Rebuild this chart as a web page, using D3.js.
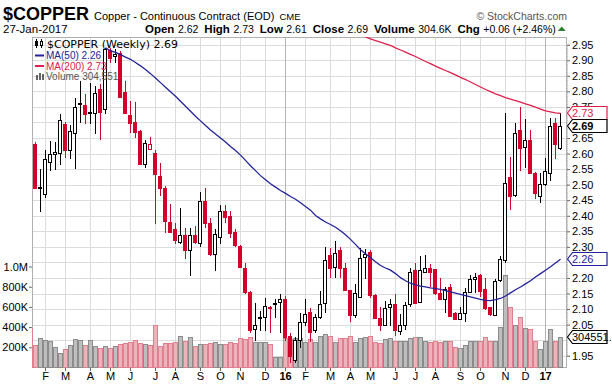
<!DOCTYPE html>
<html>
<head>
<meta charset="utf-8">
<script src="https://cdn.jsdelivr.net/npm/d3@7"></script>
<style>
  body { margin: 0; background: #fff; }
  svg { display: block; font-family: Arial, "Liberation Sans", sans-serif; }
</style>
</head>
<body>
<div id="chart"></div>
<script>
// weekly bars, Jan 16 2015 .. Jan 27 2017 (Fridays)
const weeks = d3.timeFriday.range(new Date(2015, 0, 16), new Date(2017, 0, 28));

const openP = [2.70,2.632,2.494,2.472,2.574,2.600,2.600,2.696,2.610,2.667,
  2.762,2.756,2.734,2.731,2.809,2.742,2.933,2.914,2.924,2.798,
  2.724,2.701,2.672,2.567,2.617,2.602,2.528,2.490,2.380,2.356,
  2.313,2.337,2.288,2.337,2.313,2.447,2.376,2.276,2.330,2.415,
  2.398,2.347,2.303,2.233,2.155,2.036,2.075,2.074,2.107,2.118,
  2.121,2.131,2.012,1.937,2.000,2.058,2.091,2.032,2.074,2.119,
  2.273,2.235,2.289,2.231,2.161,2.080,2.136,2.265,2.283,2.145,
  2.072,2.048,2.104,2.116,2.029,2.048,2.114,2.226,2.122,2.217,
  2.231,2.228,2.151,2.132,2.172,2.087,2.068,2.087,2.154,2.196,
  2.209,2.163,2.105,2.081,2.191,2.255,2.523,2.466,2.675,2.622,
  2.645,2.539,2.461,2.501,2.539,2.699,2.62];
const highP = [2.72,2.636,2.549,2.610,2.640,2.636,2.728,2.703,2.691,2.779,
  2.833,2.793,2.828,2.818,2.824,2.940,2.940,2.935,2.929,2.832,
  2.769,2.766,2.677,2.645,2.654,2.610,2.570,2.497,2.437,2.378,
  2.426,2.361,2.361,2.367,2.476,2.490,2.393,2.356,2.433,2.433,
  2.415,2.356,2.307,2.249,2.158,2.121,2.094,2.136,2.109,2.131,
  2.147,2.142,2.024,2.009,2.088,2.131,2.104,2.083,2.158,2.300,
  2.297,2.318,2.301,2.249,2.161,2.179,2.297,2.292,2.289,2.147,
  2.106,2.126,2.131,2.147,2.083,2.124,2.233,2.247,2.271,2.274,
  2.244,2.230,2.199,2.172,2.180,2.091,2.107,2.167,2.209,2.217,
  2.214,2.199,2.106,2.196,2.271,2.730,2.590,2.697,2.750,2.710,
  2.675,2.540,2.536,2.585,2.713,2.713,2.73];
const lowP = [2.58,2.486,2.413,2.456,2.544,2.546,2.562,2.587,2.584,2.549,
  2.699,2.696,2.694,2.662,2.642,2.728,2.892,2.891,2.780,2.727,
  2.667,2.651,2.564,2.552,2.610,2.375,2.463,2.345,2.345,2.308,
  2.308,2.260,2.206,2.308,2.301,2.361,2.270,2.221,2.308,2.378,
  2.330,2.301,2.233,2.147,2.024,1.997,2.029,2.029,2.024,2.072,
  2.024,1.997,1.926,1.926,1.976,2.046,1.994,2.024,2.067,2.088,
  2.199,2.201,2.201,2.160,2.058,2.072,2.134,2.196,2.134,2.067,
  2.029,2.046,2.044,2.014,2.017,2.034,2.107,2.119,2.121,2.216,
  2.172,2.145,2.129,2.086,2.073,2.065,2.065,2.059,2.151,2.151,
  2.140,2.097,2.077,2.077,2.188,2.249,2.418,2.461,2.545,2.553,
  2.536,2.453,2.442,2.495,2.513,2.582,2.61];
const closeP = [2.60,2.490,2.492,2.584,2.600,2.605,2.707,2.611,2.672,2.749,
  2.759,2.728,2.731,2.794,2.734,2.935,2.908,2.919,2.784,2.731,
  2.697,2.670,2.567,2.635,2.632,2.535,2.490,2.385,2.347,2.320,
  2.337,2.288,2.337,2.313,2.447,2.376,2.276,2.340,2.415,2.396,
  2.343,2.305,2.236,2.155,2.032,2.048,2.072,2.109,2.104,2.116,
  2.131,2.008,1.947,2.000,2.058,2.083,2.027,2.075,2.115,2.257,
  2.230,2.281,2.231,2.161,2.080,2.151,2.263,2.276,2.145,2.072,
  2.050,2.104,2.115,2.032,2.048,2.112,2.218,2.121,2.226,2.231,
  2.217,2.151,2.132,2.164,2.079,2.068,2.087,2.154,2.196,2.204,
  2.159,2.102,2.081,2.191,2.260,2.504,2.461,2.665,2.617,2.643,
  2.539,2.475,2.501,2.543,2.689,2.630,2.69];
// volume in thousands
const volumeK = [394,222,289,270,262,206,140,180,222,279,
  269,223,269,213,190,213,198,210,228,240,
  252,268,238,232,220,418,215,246,242,248,
  312,258,305,212,232,230,244,252,232,232,
  248,240,290,282,300,250,255,248,232,100,
  100,290,282,290,288,252,280,250,310,330,
  310,252,290,292,310,255,290,300,310,252,
  245,280,290,262,262,262,290,300,300,262,
  250,265,255,262,262,200,190,225,260,265,
  262,300,262,265,404,913,602,421,497,388,
  378,262,180,262,378,266,304.551];
// moving averages (null = above the visible range)
const ma50 = [null,null,null,null,null,null,null,null,null,null,
  null,null,null,null,null,2.940,2.930,2.925,2.918,2.910,
  2.903,2.893,2.882,2.870,2.857,2.843,2.828,2.813,2.799,2.784,
  2.768,2.752,2.736,2.720,2.705,2.690,2.676,2.663,2.650,2.637,
  2.623,2.610,2.595,2.578,2.561,2.545,2.529,2.516,2.503,2.492,
  2.481,2.472,2.462,2.453,2.442,2.430,2.418,2.401,2.390,2.380,
  2.372,2.363,2.352,2.339,2.324,2.308,2.291,2.278,2.265,2.252,
  2.240,2.232,2.225,2.214,2.201,2.191,2.183,2.178,2.174,2.171,
  2.168,2.166,2.163,2.159,2.155,2.151,2.147,2.143,2.139,2.135,
  2.131,2.128,2.127,2.130,2.134,2.142,2.152,2.162,2.171,2.181,
  2.191,2.203,2.214,2.225,2.236,2.248,2.260];
const ma200 = [null,null,null,null,null,null,null,null,null,null,
  null,null,null,null,null,null,null,null,null,null,
  null,null,null,null,null,null,null,null,null,null,
  null,null,null,null,null,null,null,null,null,null,
  null,null,null,null,null,null,null,null,null,null,
  null,null,null,null,null,null,null,null,null,null,
  null,null,null,null,null,null,2.985,2.975,2.969,2.963,
  2.958,2.953,2.948,2.940,2.933,2.926,2.919,2.912,2.904,2.896,
  2.889,2.881,2.874,2.867,2.860,2.853,2.845,2.838,2.830,2.822,
  2.814,2.806,2.799,2.792,2.786,2.780,2.775,2.770,2.765,2.760,
  2.755,2.749,2.743,2.737,2.734,2.731,2.729];

const monthLetters = ["J","F","M","A","M","J","J","A","S","O","N","D"];
const priceTicks = d3.range(1.95, 2.96, 0.05);
const volumeTicks = [200000, 400000, 600000, 800000, 1000000];

const bars = weeks.map((d, i) => ({
  date: d, i: i,
  open: openP[i], high: highP[i], low: lowP[i], close: closeP[i],
  volume: volumeK[i] * 1000
}));
bars.forEach((b, i) => {
  const prev = i > 0 ? bars[i - 1].close : b.open;
  b.down = b.close < prev;
  b.filled = b.close < b.open;
});

const w = 612, h = 388;
const pL = 32, pR = 567, pT = 37, pB = 368;
const red = "#d3002b", blue = "#22229a", maRed = "#e0204c";
const half = v => Math.round(v) + 0.5;

const svg = d3.select("#chart").append("svg")
  .attr("width", w).attr("height", h);

const x = d3.scaleTime()
  .domain([weeks[0], weeks[weeks.length - 1]])
  .range([30.5, 560.5]);
const y = d3.scaleLinear().domain([1.95, 2.95]).range([355.7, 44.7]);
const yv = d3.scaleLinear().domain([0, 1000000]).range([367.5, 266.5]);

svg.append("clipPath").attr("id", "clip")
  .append("rect").attr("x", pL).attr("y", pT)
  .attr("width", pR - pL).attr("height", pB - pT);

// month ticks: first week whose Monday falls in a new month
const monthTicks = [];
bars.forEach((b, i) => {
  if (i === 0) return;
  const m0 = d3.timeDay.offset(bars[i - 1].date, -4).getMonth();
  const m1 = d3.timeDay.offset(b.date, -4).getMonth();
  if (m0 !== m1) monthTicks.push(b);
});

// grid
const grid = svg.append("g");
grid.selectAll("line.h")
  .data(priceTicks)
  .enter().append("line")
  .attr("x1", pL).attr("x2", pR)
  .attr("y1", d => half(y(d))).attr("y2", d => half(y(d)))
  .attr("stroke", "#dcdcdc");
grid.selectAll("line.v")
  .data(monthTicks)
  .enter().append("line")
  .attr("x1", d => x(d.date)).attr("x2", d => x(d.date))
  .attr("y1", pT).attr("y2", pB)
  .attr("stroke", d => d.date.getMonth() === 0 ? "#b4b4b4" : "#dcdcdc");

// plot frame
svg.append("rect")
  .attr("x", pL + 0.5).attr("y", pT + 0.5)
  .attr("width", pR - pL - 1).attr("height", pB - pT - 1)
  .attr("fill", "none").attr("stroke", "#b0b0b0");

const plot = svg.append("g").attr("clip-path", "url(#clip)");

// volume
plot.selectAll("rect.vol")
  .data(bars)
  .enter().append("rect")
  .attr("x", d => x(d.date) - 2)
  .attr("y", d => half(yv(d.volume)))
  .attr("width", 4)
  .attr("height", d => yv(0) - half(yv(d.volume)))
  .attr("fill", d => d.down ? "#ebb4bc" : "#bebebe")
  .attr("stroke", d => d.down ? "#e0808e" : "#8c8c8c")
  .attr("stroke-width", 1);

// candles
const candle = plot.selectAll("g.candle")
  .data(bars)
  .enter().append("g");
candle.append("line")
  .attr("x1", d => x(d.date)).attr("x2", d => x(d.date))
  .attr("y1", d => Math.round(y(d.high))).attr("y2", d => Math.round(y(d.low)))
  .attr("stroke", d => d.down ? red : "#000");
candle.append("rect")
  .attr("x", d => x(d.date) - 2)
  .attr("y", d => half(y(Math.max(d.open, d.close))))
  .attr("width", 3)
  .attr("height", d => Math.max(1, Math.round(Math.abs(y(d.open) - y(d.close)))))
  .attr("fill", d => d.filled ? (d.down ? red : "#000") : "#fff")
  .attr("stroke", d => d.down ? red : "#000");

// moving averages
const maLine = arr => d3.line()
  .defined((d, i) => arr[i] != null)
  .x(d => x(d.date))
  .y((d, i) => y(arr[i]));
plot.append("path").datum(bars)
  .attr("d", maLine(ma200))
  .attr("fill", "none").attr("stroke", maRed).attr("stroke-width", 1.3);
plot.append("path").datum(bars)
  .attr("d", maLine(ma50))
  .attr("fill", "none").attr("stroke", blue).attr("stroke-width", 1.3);

// value tags on the right axis
const last = bars[bars.length - 1];
const tags = [
  {v: y(ma200[ma200.length - 1]), text: "2.73", color: maRed, bold: false},
  {v: y(last.close), text: "2.69", color: "#000", bold: true},
  {v: y(ma50[ma50.length - 1]), text: "2.26", color: blue, bold: false},
  {v: yv(last.volume), text: "304551.", color: "#000", bold: false}
];

// right price axis (labels sitting under a tag are covered, so skip them)
const shown = priceTicks.filter(p => tags.every(t => Math.abs(y(p) - t.v) > 4.5));
const axR = svg.append("g")
  .attr("transform", "translate(" + pR + ",0)")
  .call(d3.axisRight(y).tickValues(shown).tickFormat(d3.format(".2f")).tickSize(3).tickPadding(2));
axR.select(".domain").attr("stroke", "#aaa").attr("stroke-dasharray", "1,1");
axR.selectAll(".tick line").attr("stroke", "#666");
axR.selectAll("text").attr("font-size", 11).attr("font-family", null).attr("fill", "#000");

// left volume axis
const axL = svg.append("g")
  .attr("transform", "translate(" + pL + ",0)")
  .call(d3.axisLeft(yv).tickValues(volumeTicks)
    .tickFormat(d => d >= 1000000 ? "1.0M" : (d / 1000) + "K").tickSize(3).tickPadding(1));
axL.select(".domain").remove();
axL.selectAll(".tick line").attr("stroke", "#666");
axL.selectAll("text").attr("font-size", 11).attr("font-family", null).attr("fill", "#000");

// bottom month axis
const axB = svg.append("g");
axB.selectAll("line")
  .data(monthTicks)
  .enter().append("line")
  .attr("x1", d => x(d.date)).attr("x2", d => x(d.date))
  .attr("y1", pB).attr("y2", pB + 3)
  .attr("stroke", "#666");
axB.selectAll("text")
  .data(monthTicks)
  .enter().append("text")
  .attr("x", d => x(d.date))
  .attr("y", 380)
  .attr("text-anchor", "middle")
  .attr("font-size", 11)
  .attr("font-weight", d => d.date.getMonth() === 0 ? "bold" : "normal")
  .text(d => d.date.getMonth() === 0 ? d3.timeFormat("%y")(d.date) : monthLetters[d.date.getMonth()]);

const tag = svg.append("g").selectAll("g")
  .data(tags).enter().append("g")
  .attr("transform", d => "translate(" + pR + "," + Math.round(d.v) + ")");
tag.append("path")
  .attr("d", "M0.5,0 L5.5,-6.5 L40,-6.5 L40,6.5 L5.5,6.5 Z")
  .attr("fill", "#fff").attr("stroke", d => d.color).attr("stroke-width", 1.2);
tag.append("text")
  .attr("x", 5).attr("y", 4)
  .attr("font-size", 11)
  .attr("font-weight", d => d.bold ? "bold" : "normal")
  .attr("fill", d => d.color)
  .text(d => d.text);

// legend
const lg = svg.append("g");
lg.append("text").attr("x", 47).attr("y", 47.5).attr("font-size", 11)
  .style("font-family", "'DejaVu Sans', Verdana, sans-serif").attr("fill", "#000")
  .text("$COPPER (Weekly) 2.69");
lg.append("text").attr("x", 46).attr("y", 59).attr("font-size", 10).attr("fill", blue).text("MA(50) 2.26");
lg.append("text").attr("x", 46).attr("y", 69.5).attr("font-size", 10).attr("fill", maRed).text("MA(200) 2.73");
lg.append("text").attr("x", 46).attr("y", 80).attr("font-size", 10).attr("fill", "#555").text("Volume 304,551");
// legend icons
lg.append("line").attr("x1", 35).attr("x2", 44).attr("y1", 55.5).attr("y2", 55.5).attr("stroke", blue).attr("stroke-width", 2);
lg.append("line").attr("x1", 35).attr("x2", 44).attr("y1", 66).attr("y2", 66).attr("stroke", maRed).attr("stroke-width", 2);
[[36, 3, 5], [39, 1, 7], [42, 2, 6]].forEach(a => {
  lg.append("rect").attr("x", a[0]).attr("y", 72 + a[1]).attr("width", 2).attr("height", a[2]).attr("fill", "#666");
});
lg.append("line").attr("x1", 36.5).attr("x2", 36.5).attr("y1", 39).attr("y2", 48).attr("stroke", "#000");
lg.append("rect").attr("x", 35.5).attr("y", 41.5).attr("width", 2).attr("height", 4).attr("fill", "#000").attr("stroke", "#000");
lg.append("line").attr("x1", 41.5).attr("x2", 41.5).attr("y1", 39).attr("y2", 48).attr("stroke", "#000");
lg.append("rect").attr("x", 40.5).attr("y", 41.5).attr("width", 2).attr("height", 4).attr("fill", "#fff").attr("stroke", "#000");

// header
const hd = svg.append("g");
const t1 = hd.append("text").attr("x", 3).attr("y", 20);
t1.append("tspan").attr("font-size", 18).attr("font-weight", "bold").text("$COPPER");
t1.append("tspan").attr("font-size", 11).attr("dx", 5).text("Copper - Continuous Contract (EOD)");
t1.append("tspan").attr("font-size", 9.5).attr("dx", 5).text("CME");
hd.append("text").attr("x", 3).attr("y", 32.5).attr("font-size", 11.5).text("27-Jan-2017");
const t2 = hd.append("text").attr("x", 145).attr("y", 32.5).attr("font-size", 10.5);
[["Open", "2.62"], ["High", "2.73"], ["Low", "2.61"], ["Close", "2.69"],
 ["Volume", "304.6K"], ["Chg", "+0.06 (+2.46%)"]].forEach((p, k) => {
  t2.append("tspan").attr("font-weight", "bold").attr("font-size", 11.5).attr("dx", k ? 6 : 0).text(p[0]);
  t2.append("tspan").attr("dx", 3.5).text(p[1]);
});
const bb = t2.node().getBBox();
const chgEnd = bb.x + bb.width;
hd.append("path")
  .attr("d", "M" + (chgEnd + 2) + ",31 L" + (chgEnd + 6) + ",26.5 L" + (chgEnd + 10) + ",31 Z")
  .attr("fill", "#2e7d32");
hd.append("text").attr("x", 567).attr("y", 20).attr("text-anchor", "end")
  .attr("font-size", 10.5).attr("fill", "#555").text("\u00a9 StockCharts.com");
</script>
</body>
</html>
